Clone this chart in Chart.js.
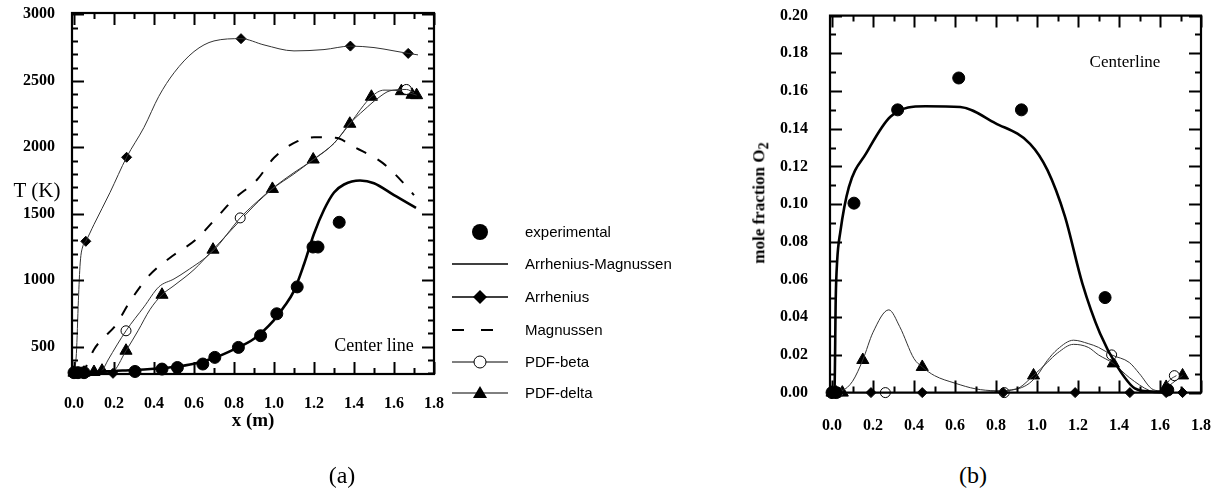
<!DOCTYPE html>
<html>
<head>
<meta charset="utf-8">
<script src="https://cdn.jsdelivr.net/npm/chart.js@4.4.1/dist/chart.umd.min.js"></script>
<style>
  body { margin: 0; background: #fff; width: 1227px; height: 490px; overflow: hidden; position: relative; font-family: 'Liberation Serif', serif; }
  .box { position: absolute; }
  .ov { position: absolute; left: 0; top: 0; pointer-events: none; }
  .txt { position: absolute; transform: translate(-50%, -50%); white-space: nowrap; color: #000; }
  .leg { position: absolute; left: 452px; font-family: 'Liberation Sans', Arial, sans-serif; font-size: 15px; }
  .leg div { position: absolute; left: 0; height: 20px; width: 240px; }
  .leg svg { position: absolute; left: 0; top: 0; }
  .leg span { position: absolute; left: 73px; top: 1px; }
</style>
</head>
<body>
<div class="box" id="boxA" style="left:0;top:0"><canvas id="chartA" width="460" height="440"></canvas><canvas class="ov" id="ovA" width="460" height="440"></canvas></div>
<div class="box" id="boxB" style="left:680px;top:0"><canvas id="chartB" width="547" height="440"></canvas><canvas class="ov" id="ovB" width="547" height="440"></canvas></div>

<div class="txt" style="left:37px;top:190px;font-size:21px">T (K)</div>
<div class="txt" style="left:253px;top:420px;font-size:19px;font-weight:bold">x (m)</div>
<div class="txt" style="left:374px;top:345px;font-size:18px">Center line</div>
<div class="txt" style="left:761px;top:203px;font-size:17px;font-weight:bold;transform:translate(-50%,-50%) rotate(-90deg)">mole fraction O<sub>2</sub></div>
<div class="txt" style="left:1125px;top:62px;font-size:17px">Centerline</div>
<div class="txt" style="left:342px;top:475px;font-size:24px">(a)</div>
<div class="txt" style="left:973px;top:475px;font-size:24px">(b)</div>
<div class="leg" id="legend" style="top:0"></div>

<script>
// ticks
const xTicks = [0.0, 0.2, 0.4, 0.6, 0.8, 1.0, 1.2, 1.4, 1.6, 1.8];
const yTicksA = [500, 1000, 1500, 2000, 2500, 3000];
const yTicksB = [0.00, 0.02, 0.04, 0.06, 0.08, 0.10, 0.12, 0.14, 0.16, 0.18, 0.20];
const legendLabels = ['experimental', 'Arrhenius-Magnussen', 'Arrhenius', 'Magnussen', 'PDF-beta', 'PDF-delta'];

// (a) temperature, centre line
const expA_x = [0.0, 0.02, 0.05, 0.305, 0.44, 0.517, 0.644, 0.704, 0.822, 0.933, 1.014, 1.116, 1.195, 1.22, 1.326];
const expA_y = [305, 305, 305, 314, 332, 344, 370, 420, 495, 583, 748, 950, 1250, 1250, 1436];

const amA_x = [0.0, 0.1, 0.2, 0.3, 0.4, 0.5, 0.6, 0.7, 0.8, 0.9, 1.0, 1.05, 1.1, 1.15, 1.2, 1.25, 1.3, 1.35, 1.43, 1.5, 1.6, 1.71];
const amA_y = [305, 310, 318, 325, 335, 348, 372, 415, 480, 560, 700, 800, 920, 1120, 1350, 1530, 1660, 1720, 1750, 1730, 1640, 1545];

const arA_x = [0.0, 0.012, 0.022, 0.031, 0.045, 0.059, 0.1, 0.18, 0.263, 0.35, 0.424, 0.5, 0.6, 0.7, 0.835, 0.95, 1.1, 1.25, 1.382, 1.5, 1.6, 1.671, 1.72];
const arA_y = [300, 450, 850, 1130, 1260, 1293, 1420, 1660, 1925, 2150, 2383, 2560, 2720, 2800, 2817, 2770, 2725, 2735, 2761, 2750, 2725, 2706, 2695];
const arA_mx = [0.0, 0.02, 0.059, 0.195, 0.263, 0.835, 1.382, 1.671];
const arA_my = [305, 305, 1293, 300, 1925, 2817, 2761, 2706];

const mgA_x = [0.03, 0.06, 0.1, 0.15, 0.21, 0.28, 0.38, 0.49, 0.61, 0.704, 0.797, 0.916, 1.0, 1.118, 1.2, 1.306, 1.408, 1.543, 1.662, 1.7];
const mgA_y = [300, 350, 480, 570, 665, 841, 1042, 1180, 1306, 1456, 1607, 1758, 1921, 2046, 2075, 2071, 1996, 1883, 1707, 1640];

const pbA_x = [0.0, 0.1, 0.14, 0.17, 0.26, 0.35, 0.424, 0.5, 0.56, 0.695, 0.831, 0.9, 1.0, 1.1, 1.2, 1.3, 1.38, 1.45, 1.52, 1.58, 1.662, 1.7];
const pbA_y = [300, 300, 320, 400, 620, 800, 950, 1010, 1067, 1220, 1469, 1570, 1700, 1810, 1910, 2030, 2180, 2280, 2370, 2425, 2435, 2410];
const pbA_mx = [0.0, 0.03, 0.26, 0.831, 1.662];
const pbA_my = [305, 305, 620, 1469, 2435];

const pdA_x = [0.0, 0.1, 0.19, 0.26, 0.32, 0.38, 0.44, 0.5, 0.6, 0.695, 0.8, 0.9, 0.992, 1.1, 1.196, 1.3, 1.379, 1.487, 1.55, 1.637, 1.713];
const pdA_y = [300, 300, 310, 470, 620, 780, 891, 960, 1080, 1230, 1400, 1560, 1687, 1800, 1908, 2030, 2177, 2380, 2430, 2425, 2392];
const pdA_mx = [0.0, 0.05, 0.1, 0.14, 0.26, 0.44, 0.695, 0.992, 1.196, 1.379, 1.487, 1.637, 1.69, 1.713];
const pdA_my = [305, 305, 310, 320, 470, 891, 1230, 1687, 1908, 2177, 2380, 2422, 2395, 2392];

// (b) O2 mole fraction, centreline
const expB_x = [0.0, 0.02, 0.107, 0.32, 0.618, 0.924, 1.332, 1.638];
const expB_y = [0.0, 0.0, 0.1005, 0.150, 0.1669, 0.150, 0.0504, 0.0014];

const amB_x = [0.0, 0.012, 0.018, 0.025, 0.04, 0.082, 0.167, 0.286, 0.456, 0.626, 0.796, 0.966, 1.051, 1.136, 1.221, 1.307, 1.392, 1.477, 1.562, 1.65];
const amB_y = [0.0, 0.002, 0.05, 0.07, 0.085, 0.109, 0.127, 0.1465, 0.1519, 0.1515, 0.143, 0.132, 0.118, 0.0935, 0.058, 0.0315, 0.0138, 0.0023, 0.0005, 0.0];

const arB_x = [0.0, 0.03, 0.19, 0.44, 0.835, 1.186, 1.453, 1.63, 1.71];
const arB_y = [0, 0, 0, 0, 0, 0, 0, 0, 0];

const pbB_x = [0.0, 0.3, 0.6, 0.85, 0.95, 1.0, 1.05, 1.1, 1.178, 1.25, 1.3, 1.364, 1.45, 1.5, 1.56, 1.6, 1.65, 1.68];
const pbB_y = [0.0, 0.0, 0.0, 0.001, 0.004, 0.009, 0.017, 0.023, 0.0278, 0.026, 0.024, 0.02, 0.016, 0.01, 0.002, 0.001, 0.007, 0.009];
const pbB_mx = [0.0, 0.03, 0.26, 0.84, 1.364, 1.67];
const pbB_my = [0, 0, 0, 0, 0.02, 0.009];

const pdB_x = [0.0, 0.05, 0.1, 0.15, 0.2, 0.277, 0.33, 0.4, 0.44, 0.5, 0.6, 0.7, 0.8, 0.9, 0.983, 1.05, 1.1, 1.178, 1.25, 1.3, 1.372, 1.45, 1.55, 1.6, 1.66, 1.71];
const pdB_y = [0.0, 0.001, 0.006, 0.0173, 0.032, 0.0439, 0.035, 0.018, 0.0136, 0.009, 0.005, 0.002, 0.001, 0.002, 0.0091, 0.016, 0.021, 0.0256, 0.024, 0.02, 0.0155, 0.008, 0.001, 0.0, 0.005, 0.0091];
const pdB_mx = [0.0, 0.02, 0.05, 0.15, 0.44, 0.983, 1.372, 1.63, 1.71];
const pdB_my = [0, 0, 0, 0.0173, 0.0136, 0.0091, 0.0155, 0.003, 0.0091];

function pts(xs, ys) { return xs.map((x, i) => ({x: x, y: ys[i]})); }

function curve(xs, ys, width, dash) {
  return {
    data: pts(xs, ys), showLine: true, pointRadius: 0,
    borderColor: width > 1.5 ? '#000' : '#333', borderWidth: width,
    borderDash: dash || [], cubicInterpolationMode: 'monotone', clip: false
  };
}

function marks(xs, ys, style, r, fill) {
  return {
    data: pts(xs, ys), showLine: false, pointStyle: style, pointRadius: r,
    backgroundColor: fill, borderColor: '#000', borderWidth: 1, clip: false
  };
}

// frame with inward ticks on all four sides, on an overlay canvas
function drawFrame(ctx, chart, f) {
  const a = chart.chartArea, sx = chart.scales.x, sy = chart.scales.y;
  ctx.clearRect(0, 0, ctx.canvas.width, ctx.canvas.height);
  ctx.strokeStyle = '#000';
  ctx.lineCap = 'butt';
  ctx.lineWidth = 2.2;
  ctx.strokeRect(a.left, a.top, a.right - a.left, a.bottom - a.top);
  ctx.lineWidth = 2;
  const nx = Math.round((f.x1 - f.x0) / f.xMinor);
  for (let i = 0; i <= nx; i++) {
    const px = Math.round(sx.getPixelForValue(f.x0 + i * f.xMinor)) + 0.5;
    const L = i % 2 === 0 ? f.major : f.minor;
    ctx.beginPath();
    ctx.moveTo(px, a.top); ctx.lineTo(px, a.top + L);
    ctx.moveTo(px, a.bottom); ctx.lineTo(px, a.bottom - L);
    ctx.stroke();
  }
  const ny = Math.round((f.y1 - f.y0) / f.yMinor);
  for (let i = 0; i <= ny; i++) {
    const v = f.y0 + i * f.yMinor;
    const py = Math.round(sy.getPixelForValue(v)) + 0.5;
    const r = v / f.yMajor;
    const L = Math.abs(r - Math.round(r)) < 1e-6 ? f.major : f.minor;
    ctx.beginPath();
    ctx.moveTo(a.left, py); ctx.lineTo(a.left + L, py);
    ctx.moveTo(a.right, py); ctx.lineTo(a.right - L, py);
    ctx.stroke();
  }
}

Chart.defaults.font.family = "'Liberation Serif', 'Times New Roman', serif";
Chart.defaults.font.size = 16;
Chart.defaults.color = '#000';

function makeChart(id, datasets, cfg) {
  const chart = new Chart(document.getElementById(id), {
    type: 'line',
    data: { datasets: datasets },
    options: {
      responsive: false,
      animation: false,
      layout: { padding: cfg.padding },
      plugins: { legend: { display: false }, tooltip: { enabled: false } },
      scales: {
        x: {
          type: 'linear', min: cfg.xmin, max: cfg.xmax,
          grid: { display: false }, border: { display: false },
          afterBuildTicks: s => { s.ticks = xTicks.map(v => ({value: v})); },
          afterFit: s => { s.height = cfg.xh; },
          ticks: { autoSkip: false, maxRotation: 0, padding: cfg.xpad, font: { weight: 'bold' }, callback: v => v.toFixed(1) }
        },
        y: {
          type: 'linear', min: cfg.ymin, max: cfg.ymax,
          grid: { display: false }, border: { display: false },
          afterBuildTicks: s => { s.ticks = cfg.yTicks.map(v => ({value: v})); },
          afterFit: s => { s.width = cfg.yw; },
          ticks: { autoSkip: false, padding: cfg.ypad, font: { weight: 'bold' }, callback: cfg.yfmt }
        }
      }
    }
  });
  // size the plot box, then slide the panel so the box sits where the figure has it
  const want = cfg.areaBottom - cfg.areaTop;
  const have = chart.chartArea.bottom - chart.chartArea.top;
  if (Math.abs(have - want) > 0.5) { cfg.xh += have - want; chart.update(); }
  document.getElementById(cfg.box).style.top = (cfg.areaTop - chart.chartArea.top) + 'px';
  drawFrame(document.getElementById(cfg.overlay).getContext('2d'), chart, cfg.frame);
  return chart;
}

makeChart('chartA', [
  marks(expA_x, expA_y, 'circle', 6, '#000'),
  curve(amA_x, amA_y, 2.6),
  curve(arA_x, arA_y, 1),
  marks(arA_mx, arA_my, 'rectRot', 5, '#000'),
  curve(mgA_x, mgA_y, 2, [11, 13]),
  curve(pbA_x, pbA_y, 1),
  marks(pbA_mx, pbA_my, 'circle', 5, '#fff'),
  curve(pdA_x, pdA_y, 1),
  marks(pdA_mx, pdA_my, 'triangle', 7, '#000')
], {
  box: 'boxA', overlay: 'ovA', areaTop: 13, areaBottom: 374,
  padding: {left: 0, top: 20, right: 26, bottom: 0},
  xmin: -0.01, xmax: 1.8, ymin: 295, ymax: 3010,
  xh: 59, yw: 72, xpad: 12, ypad: 9, yTicks: yTicksA,
  yfmt: v => String(v),
  frame: {x0: 0, x1: 1.8, xMinor: 0.1, y0: 300, y1: 3000, yMinor: 100, yMajor: 500, major: 12, minor: 6}
});

makeChart('chartB', [
  marks(expB_x, expB_y, 'circle', 6, '#000'),
  curve(amB_x, amB_y, 2.6),
  curve(arB_x, arB_y, 1),
  marks(arB_x, arB_y, 'rectRot', 5, '#000'),
  curve(pbB_x, pbB_y, 1),
  marks(pbB_mx, pbB_my, 'circle', 5, '#fff'),
  curve(pdB_x, pdB_y, 1),
  marks(pdB_mx, pdB_my, 'triangle', 7, '#000')
], {
  box: 'boxB', overlay: 'ovB', areaTop: 16, areaBottom: 393,
  padding: {left: 0, top: 20, right: 22, bottom: 0},
  xmin: -0.01, xmax: 1.8, ymin: 0, ymax: 0.2,
  xh: 43, yw: 150, xpad: 16, ypad: 14, yTicks: yTicksB,
  yfmt: v => v.toFixed(2),
  frame: {x0: 0, x1: 1.8, xMinor: 0.1, y0: 0, y1: 0.2, yMinor: 0.01, yMajor: 0.02, major: 12, minor: 6}
});

// legend between the two panels
const legendRows = [232, 264, 297, 330, 362, 393];
const legendSym = [
  '<circle cx="28" cy="10" r="8" fill="#000"/>',
  '<line x1="0" y1="10" x2="56" y2="10" stroke="#000" stroke-width="1.3"/>',
  '<line x1="0" y1="10" x2="56" y2="10" stroke="#000" stroke-width="1.3"/><path d="M28 3 L35 10 L28 17 L21 10 Z" fill="#000"/>',
  '<line x1="0" y1="10" x2="12" y2="10" stroke="#000" stroke-width="2"/><line x1="29" y1="10" x2="41" y2="10" stroke="#000" stroke-width="2"/>',
  '<line x1="0" y1="10" x2="56" y2="10" stroke="#000" stroke-width="1"/><circle cx="28" cy="10" r="6" fill="#fff" stroke="#000" stroke-width="1"/>',
  '<line x1="0" y1="10" x2="56" y2="10" stroke="#000" stroke-width="1"/><path d="M28 3 L35 15 L21 15 Z" fill="#000"/>'
];
const leg = document.getElementById('legend');
legendLabels.forEach((lab, i) => {
  const row = document.createElement('div');
  row.style.top = (legendRows[i] - 10) + 'px';
  row.innerHTML = '<svg width="60" height="20">' + legendSym[i] + '</svg><span>' + lab + '</span>';
  leg.appendChild(row);
});
</script>
</body>
</html>
